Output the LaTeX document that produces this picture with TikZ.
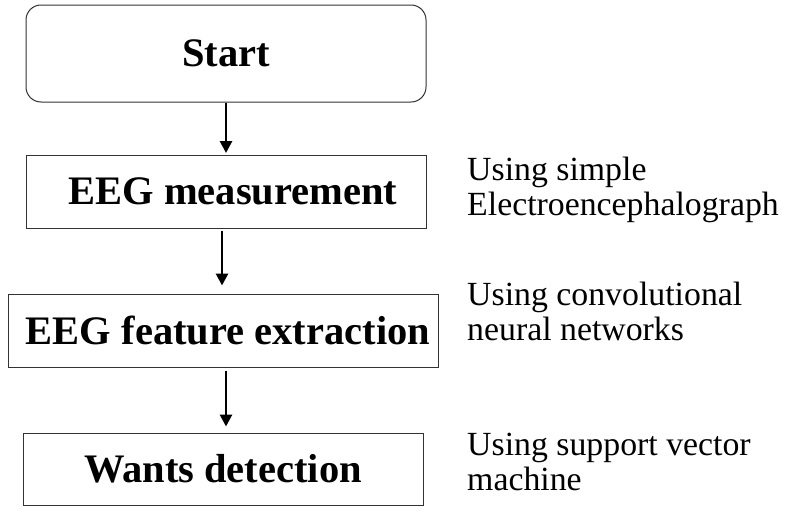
\documentclass[tikz,border=0pt]{standalone}
\usepackage{fontspec}
\setmainfont{Liberation Serif}
\usetikzlibrary{arrows.meta}
\begin{document}
\begin{tikzpicture}[x=1pt,y=-1pt,
  box/.style={draw=black!80,line width=1pt,inner sep=0pt,
    font=\bfseries\fontsize{40.5}{44}\selectfont},
  flow/.style={line width=2.8pt,-{Triangle[width=12pt,length=12pt]}},
  side/.style={anchor=base west,align=left,inner sep=0pt,
    font=\fontsize{33.8}{35}\selectfont}]
\useasboundingbox (0,0) rectangle (800,530);
\node[box,rounded corners=15pt,minimum width=400pt,minimum height=97pt] (start) at (226,53.5) {Start};
\node[box,minimum width=400pt,minimum height=73pt] (meas) at (226,191.5) {\hspace*{14pt}EEG measurement};
\node[box,minimum width=430pt,minimum height=73pt] (feat) at (223,330.5) {\hspace*{10pt}EEG feature extraction};
\node[box,minimum width=400pt,minimum height=72pt] (want) at (223,469) {Wants detection};
\draw[flow,shorten >=1.5pt] (start.south) -- (meas.north);
\draw[flow,shorten <=2pt,shorten >=8pt] ([xshift=-4pt]meas.south) -- ([xshift=-1pt]feat.north);
\draw[flow,shorten <=3pt,shorten >=6pt] ([xshift=3pt]feat.south) -- ([xshift=3pt]want.north);
\node[side] (s1) at (467,215) {Using simple\\Electroencephalograph};
\node[side] (s2) at (467,340) {Using convolutional\\neural networks};
\node[side] (s3) at (467,490) {Using support vector\\machine};
\end{tikzpicture}
\end{document}
